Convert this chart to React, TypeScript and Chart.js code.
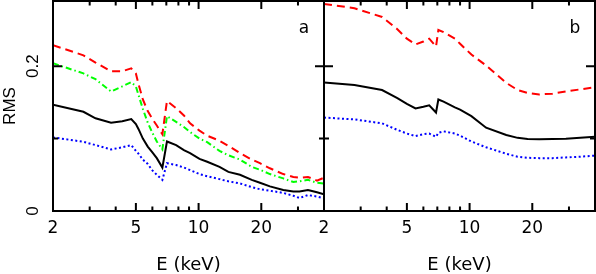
import React, { useEffect, useRef } from "react";
import { Chart, registerables } from "chart.js";

Chart.register(...registerables);

// ---- Panel a data (E in keV, RMS) ----
const energiesA = [2, 2.8, 3.2, 3.8, 4.3, 4.75, 5.0, 5.15, 5.4, 5.7, 6.0, 6.3, 6.7, 7.05, 7.8, 8.5, 9.1, 10.1, 11.0, 12.6, 13.9, 15.8, 18.0, 19.7, 22.0, 25.5, 28.5, 30.5, 33.5, 37.0, 40];
const redA = [0.229, 0.215, 0.205, 0.193, 0.193, 0.197, 0.19, 0.175, 0.154, 0.138, 0.127, 0.118, 0.106, 0.152, 0.142, 0.132, 0.121, 0.111, 0.104, 0.097, 0.09, 0.08, 0.071, 0.066, 0.059, 0.051, 0.047, 0.046, 0.047, 0.042, 0.046];
const greenA = [0.204, 0.19, 0.182, 0.165, 0.172, 0.178, 0.172, 0.16, 0.141, 0.122, 0.108, 0.096, 0.085, 0.131, 0.123, 0.116, 0.109, 0.1, 0.095, 0.083, 0.077, 0.071, 0.061, 0.057, 0.051, 0.045, 0.04, 0.041, 0.043, 0.039, 0.038];
const blackA = [0.1466, 0.137, 0.128, 0.122, 0.124, 0.127, 0.12, 0.113, 0.1, 0.089, 0.081, 0.073, 0.06, 0.096, 0.091, 0.084, 0.08, 0.072, 0.068, 0.061, 0.054, 0.05, 0.043, 0.039, 0.034, 0.029, 0.027, 0.027, 0.029, 0.026, 0.023];
const blueA = [0.1016, 0.0956, 0.091, 0.085, 0.088, 0.091, 0.083, 0.079, 0.071, 0.065, 0.056, 0.05, 0.043, 0.066, 0.0635, 0.06, 0.0565, 0.051, 0.048, 0.044, 0.041, 0.038, 0.033, 0.03, 0.028, 0.025, 0.021, 0.018, 0.022, 0.02, 0.0175];

// ---- Panel b data ----
const energiesB = [2, 2.8, 3.8, 4.5, 5.0, 5.5, 6.0, 6.4, 6.9, 7.08, 7.5, 8.5, 9.0, 10.2, 12.0, 15.0, 17.0, 19.0, 21.6, 25, 29, 34, 40];
const redB = [0.286, 0.28, 0.268, 0.251, 0.238, 0.23, 0.234, 0.238, 0.227, 0.25, 0.247, 0.238, 0.231, 0.216, 0.201, 0.177, 0.167, 0.163, 0.161, 0.162, 0.165, 0.168, 0.171];
const blackB = [0.1775, 0.174, 0.167, 0.156, 0.148, 0.1416, 0.144, 0.146, 0.136, 0.154, 0.151, 0.143, 0.14, 0.131, 0.115, 0.105, 0.101, 0.0995, 0.099, 0.0995, 0.0998, 0.101, 0.1025];
const blueB = [0.129, 0.1265, 0.121, 0.112, 0.107, 0.1034, 0.106, 0.107, 0.1025, 0.108, 0.11, 0.107, 0.104, 0.096, 0.088, 0.079, 0.075, 0.0735, 0.073, 0.073, 0.074, 0.075, 0.0765];

// ---- Axes ----
const xTickValues = [2, 3, 4, 5, 6, 7, 8, 9, 10, 20, 30, 40];
const xLabeledTicks = [2, 5, 10, 20];
const xTickLabels = ["2", "5", "10", "20"];
const yTickValues = [0, 0.1, 0.2];
const yLabeledTicks = [0, 0.2];
const yTickLabels = ["0", "0.2"];
const xMin = 2;
const xMax = 40;
const yMin = 0;
const yMax = 0.29;

const W = 596;
const H = 274;

const pts = (xs: number[], ys: number[]) => xs.map((x, i) => ({ x, y: ys[i] }));

const lineDs = (label: string, xs: number[], ys: number[], color: string, dash: number[]) => ({
  label,
  data: pts(xs, ys),
  borderColor: color,
  borderWidth: 2,
  borderDash: dash,
  pointRadius: 0,
  tension: 0,
  fill: false,
});

const framePlugin = (panelLabel: string) => ({
  id: "frameTicks",
  afterDraw(chart: any) {
    const { ctx, chartArea } = chart;
    const { left, right, top, bottom } = chartArea;
    const xs = chart.scales.x;
    const ys = chart.scales.y;
    ctx.save();
    ctx.strokeStyle = "#000";
    ctx.lineWidth = 2;
    ctx.strokeRect(left, top, right - left, bottom - top);
    ctx.beginPath();
    for (const v of xTickValues) {
      const px = xs.getPixelForValue(v);
      const len = xLabeledTicks.includes(v) ? 8 : 4.5;
      ctx.moveTo(px, bottom);
      ctx.lineTo(px, bottom - len);
      ctx.moveTo(px, top);
      ctx.lineTo(px, top + len);
    }
    for (const v of yTickValues) {
      const py = ys.getPixelForValue(v);
      const len = yLabeledTicks.includes(v) ? 9 : 5;
      ctx.moveTo(left, py);
      ctx.lineTo(left + len, py);
      ctx.moveTo(right, py);
      ctx.lineTo(right - len, py);
    }
    ctx.stroke();
    ctx.fillStyle = "#000";
    ctx.font = '17px "DejaVu Sans"';
    ctx.textAlign = "center";
    ctx.textBaseline = "alphabetic";
    ctx.fillText(panelLabel, right - 20, top + 32);
    ctx.restore();
  },
});

const makeOptions = (isLeft: boolean): any => ({
  responsive: false,
  maintainAspectRatio: false,
  animation: false,
  devicePixelRatio: 1,
  layout: { padding: { left: 0, right: isLeft ? W - 324 : 1, top: 1, bottom: 0 } },
  plugins: { legend: { display: false }, tooltip: { enabled: false } },
  scales: {
    x: {
      type: "logarithmic",
      position: "bottom",
      min: xMin,
      max: xMax,
      afterBuildTicks: (s: any) => {
        s.ticks = xTickValues.map((v) => ({ value: v }));
      },
      afterFit: (s: any) => {
        s.height = 63;
        s.paddingLeft = 0;
        s.paddingRight = 0;
        s.paddingTop = 0;
        s.paddingBottom = 0;
      },
      grid: { display: false, drawTicks: false },
      border: { display: false },
      ticks: {
        autoSkip: false,
        minRotation: 0,
        maxRotation: 0,
        padding: 7,
        color: "#000",
        font: { family: "DejaVu Sans", size: 17 },
        callback: (value: any) => {
          const i = xLabeledTicks.indexOf(Number(value));
          return i >= 0 ? xTickLabels[i] : "";
        },
      },
      title: {
        display: true,
        text: "E (keV)",
        color: "#000",
        font: { family: "DejaVu Sans", size: 18 },
        padding: { top: 0, bottom: -2 },
      },
    },
    y: {
      type: "linear",
      min: yMin,
      max: yMax,
      afterBuildTicks: (s: any) => {
        s.ticks = yTickValues.map((v) => ({ value: v }));
      },
      afterFit: (s: any) => {
        s.width = isLeft ? 53 : 324;
        s.paddingLeft = 0;
        s.paddingRight = 0;
        s.paddingTop = 0;
        s.paddingBottom = 0;
      },
      grid: { display: false, drawTicks: false },
      border: { display: false },
      ticks: {
        display: isLeft,
        minRotation: 90,
        maxRotation: 90,
        crossAlign: "center",
        padding: 8,
        color: "#000",
        font: { family: "Liberation Sans", size: 17 },
        callback: (value: any) => {
          const i = yLabeledTicks.indexOf(Number(value));
          return i >= 0 ? yTickLabels[i] : "";
        },
      },
      title: {
        display: isLeft,
        text: "RMS",
        color: "#000",
        font: { family: "Liberation Sans", size: 17 },
        padding: 0,
      },
    },
  },
});

export default function App() {
  const refA = useRef<HTMLCanvasElement | null>(null);
  const refB = useRef<HTMLCanvasElement | null>(null);

  useEffect(() => {
    const chartA = new Chart(refA.current as HTMLCanvasElement, {
      type: "line",
      data: {
        datasets: [
          lineDs("red", energiesA, redA, "#ff0000", [8, 5]),
          lineDs("green", energiesA, greenA, "#00ff00", [6, 3, 1.5, 3]),
          lineDs("black", energiesA, blackA, "#000000", []),
          lineDs("blue", energiesA, blueA, "#0000ff", [2, 2.5]),
        ],
      },
      options: makeOptions(true),
      plugins: [framePlugin("a")],
    } as any);
    const chartB = new Chart(refB.current as HTMLCanvasElement, {
      type: "line",
      data: {
        datasets: [
          lineDs("red", energiesB, redB, "#ff0000", [8, 5]),
          lineDs("black", energiesB, blackB, "#000000", []),
          lineDs("blue", energiesB, blueB, "#0000ff", [2, 2.5]),
        ],
      },
      options: makeOptions(false),
      plugins: [framePlugin("b")],
    } as any);
    return () => {
      chartA.destroy();
      chartB.destroy();
    };
  }, []);

  const canvasStyle: React.CSSProperties = {
    position: "absolute",
    left: 0,
    top: 0,
    width: W + "px",
    height: H + "px",
  };

  return (
    <div style={{ position: "absolute", left: 0, top: 0, width: W, height: H, background: "#fff" }}>
      <canvas ref={refA} width={W} height={H} style={canvasStyle} />
      <canvas ref={refB} width={W} height={H} style={canvasStyle} />
    </div>
  );
}
